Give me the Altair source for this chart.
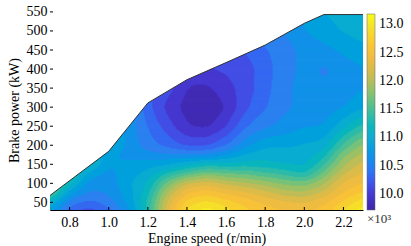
import numpy as np
import pandas as pd
import altair as alt

# ---------------- data ----------------
speed = [0.7, 0.8, 0.9, 1.0, 1.1, 1.2, 1.3, 1.4, 1.5, 1.6, 1.7, 1.8, 1.9, 2.0, 2.1, 2.2, 2.3]
power = [30, 50, 75, 100, 125, 150, 175, 200, 250, 300, 350, 400, 450, 500, 555]

# brake specific values (x10^3), one list per power row, columns follow `speed`
bsfc_p30 = [10.85, 10.3, 10.15, 10.35, 10.7, 11.3, 12.3, 12.9, 13.1, 12.9, 12.7, 12.55, 12.5, 12.45, 12.55, 12.85, 13.1]
bsfc_p50 = [11.1, 10.5, 10.35, 10.5, 10.8, 11.3, 12.2, 12.75, 12.9, 12.75, 12.6, 12.45, 12.35, 12.3, 12.45, 12.7, 12.95]
bsfc_p75 = [11.6, 10.8, 10.55, 10.6, 10.85, 11.2, 12.0, 12.5, 12.6, 12.45, 12.35, 12.2, 12.05, 12.0, 12.2, 12.5, 12.7]
bsfc_p100 = [11.7, 11.2, 10.65, 10.65, 10.9, 11.1, 11.7, 12.15, 12.25, 12.1, 12.0, 11.9, 11.75, 11.7, 11.95, 12.35, 12.5]
bsfc_p125 = [11.7, 11.4, 10.85, 10.7, 10.85, 11.0, 11.3, 11.55, 11.75, 11.65, 11.6, 11.5, 11.4, 11.25, 11.7, 12.15, 12.35]
bsfc_p150 = [11.7, 11.4, 11.2, 10.75, 10.8, 10.85, 10.9, 11.05, 11.2, 11.15, 11.2, 11.15, 11.1, 11.05, 11.4, 11.95, 12.2]
bsfc_p175 = [11.7, 11.4, 11.2, 10.8, 10.7, 10.65, 10.6, 10.6, 10.6, 10.75, 10.95, 11.05, 11.0, 11.0, 11.2, 11.75, 12.05]
bsfc_p200 = [11.7, 11.4, 11.2, 11.0, 10.7, 10.5, 10.35, 10.2, 10.2, 10.4, 10.7, 10.9, 10.9, 10.95, 11.0, 11.5, 11.85]
bsfc_p250 = [11.7, 11.4, 11.2, 11.0, 10.7, 10.4, 10.15, 9.9, 9.85, 10.05, 10.4, 10.55, 10.65, 10.75, 10.75, 11.05, 11.35]
bsfc_p300 = [11.0, 11.0, 11.0, 10.9, 10.7, 10.3, 10.0, 9.82, 9.72, 9.9, 10.2, 10.4, 10.55, 10.65, 10.65, 10.75, 10.9]
bsfc_p350 = [10.6, 10.6, 10.6, 10.6, 10.5, 10.3, 10.15, 9.88, 9.85, 10.0, 10.15, 10.35, 10.55, 10.65, 10.6, 10.65, 10.75]
bsfc_p400 = [10.3, 10.3, 10.3, 10.3, 10.3, 10.3, 10.2, 10.0, 10.05, 10.1, 10.15, 10.35, 10.5, 10.65, 10.55, 10.65, 10.75]
bsfc_p450 = [10.2, 10.2, 10.2, 10.2, 10.2, 10.2, 10.2, 10.2, 10.1, 10.15, 10.25, 10.4, 10.5, 10.65, 10.7, 10.8, 10.9]
bsfc_p500 = [10.4, 10.4, 10.4, 10.4, 10.4, 10.4, 10.4, 10.4, 10.4, 10.4, 10.45, 10.5, 10.6, 10.75, 10.85, 10.95, 11.0]
bsfc_p555 = [10.6, 10.6, 10.6, 10.6, 10.6, 10.6, 10.6, 10.6, 10.6, 10.6, 10.6, 10.6, 10.65, 10.8, 10.95, 11.0, 11.05]

# upper boundary of the operating map
env_speed = [0.7, 0.725, 1.0, 1.2, 1.4, 1.6, 1.8, 2.0, 2.1, 2.3]
env_power = [68, 78, 184, 311, 372, 417, 463, 520, 543, 543]

x_ticks = [0.8, 1.0, 1.2, 1.4, 1.6, 1.8, 2.0, 2.2]
y_ticks = [50, 100, 150, 200, 250, 300, 350, 400, 450, 500, 550]
bar_ticks = [10.0, 10.5, 11.0, 11.5, 12.0, 12.5, 13.0]

x_min, x_max = 0.7, 2.3
y_min, y_max = 30, 555
c_lo, c_hi, n_levels = 9.72, 13.18, 20

# colour bar: value -> colour
cbar_values = [9.72, 10.0, 10.25, 10.5, 10.75, 11.0, 11.25, 11.5, 11.75, 12.0, 12.25, 12.5, 12.75, 13.0, 13.18]
cbar_colors = ["#3e26a8", "#4538d2", "#3f5cf0", "#2c80f0", "#1c98e2", "#10abd2", "#1fb8b6",
               "#45be98", "#80c275", "#b6bd5c", "#e0ba48", "#f8bd3c", "#f7cf31", "#f3e628", "#f9fb15"]

FONT = "'Liberation Serif', 'Times New Roman', serif"

# ---------------- build filled-contour cells ----------------
S = np.array(speed)
P = np.array(power, dtype=float)
Z = np.array([bsfc_p30, bsfc_p50, bsfc_p75, bsfc_p100, bsfc_p125, bsfc_p150, bsfc_p175,
              bsfc_p200, bsfc_p250, bsfc_p300, bsfc_p350, bsfc_p400, bsfc_p450,
              bsfc_p500, bsfc_p555])

ds, dp = 0.005, 2.5
fs = np.round(np.arange(x_min, x_max + 1e-9, ds), 4)
fp = np.arange(y_min, y_max + 1e-9, dp)
tmp = np.array([np.interp(fs, S, row) for row in Z])
F = np.array([np.interp(fp, P, tmp[:, i]) for i in range(len(fs))]).T


def blur(A, sig, axis):
    r = int(3 * sig) + 1
    k = np.exp(-0.5 * (np.arange(-r, r + 1) / sig) ** 2)
    k /= k.sum()
    pad = [(0, 0), (0, 0)]
    pad[axis] = (r, r)
    Ap = np.pad(A, pad, mode="edge")
    return np.apply_along_axis(lambda v: np.convolve(v, k, mode="valid"), axis, Ap)


F = blur(F, 5, 1)
F = blur(F, 3, 0)

step = (c_hi - c_lo) / n_levels
q = np.clip(np.floor((F - c_lo) / step), 0, n_levels - 1).astype(int)
env_at = np.interp(fs, env_speed, env_power)

cells = []
n = len(fs)
for j, p in enumerate(fp):
    inside = (p - dp / 2) <= env_at + 3
    i = 0
    while i < n:
        if not inside[i]:
            i += 1
            continue
        k = q[j, i]
        i0 = i
        while i + 1 < n and inside[i + 1] and q[j, i + 1] == k:
            i += 1
        cells.append(dict(s0=fs[i0] - ds / 2, s1=fs[i] + ds / 2 + 0.005,
                          p0=p - dp / 2, p1=p + dp / 2 + 2.5,
                          v=c_lo + (k + 0.5) * step))
        i += 1
cells = pd.DataFrame(cells)

env_df = pd.DataFrame({"s0": env_speed, "p0": env_power, "top": [y_max] * len(env_speed)})
xt_df = pd.DataFrame({"s0": x_ticks})
yt_df = pd.DataFrame({"p0": y_ticks})

xs = alt.Scale(domain=[x_min, x_max], nice=False, zero=False)
ys = alt.Scale(domain=[y_min, y_max], nice=False, zero=False)

x_axis = alt.Axis(
    values=x_ticks, format=".1f", title="Engine speed (r/min)", ticks=False, tickSize=0,
    labelPadding=5, grid=False, domainColor="black", domainWidth=1,
    labelFont=FONT, labelFontSize=14, labelColor="black",
    titleFont=FONT, titleFontSize=14, titleFontWeight="normal", titleColor="black",
    titlePadding=2)
y_axis = alt.Axis(
    values=y_ticks, title="Brake power (kW)", ticks=False, tickSize=0,
    labelPadding=3, grid=False, domainColor="black", domainWidth=1,
    labelFont=FONT, labelFontSize=14, labelColor="black",
    titleFont=FONT, titleFontSize=14, titleFontWeight="normal", titleColor="black",
    titlePadding=5)

X = alt.X("s0:Q", scale=xs, axis=x_axis)
Y = alt.Y("p0:Q", scale=ys, axis=y_axis)

rects = alt.Chart(cells).mark_rect(clip=True, strokeWidth=0).encode(
    x=X, x2="s1:Q", y=Y, y2="p1:Q",
    color=alt.Color("v:Q", scale=alt.Scale(domain=cbar_values, range=cbar_colors, clamp=True),
                    legend=alt.Legend(
                        orient="none", legendX=317, legendY=4, direction="vertical",
                        gradientLength=196, gradientThickness=8,
                        gradientStrokeColor="#666", gradientStrokeWidth=0.5,
                        values=bar_ticks, format=".1f", labelOverlap=False,
                        labelFont=FONT, labelFontSize=14, labelColor="black", labelOffset=4,
                        title="×10³", titleOrient="bottom", titleAnchor="start",
                        titleFont=FONT, titleFontSize=13, titleFontWeight="normal",
                        titleColor="#333", titlePadding=3, padding=0)),
)

mask = alt.Chart(env_df).mark_area(color="white", opacity=1, clip=True).encode(
    x=X, y=Y, y2="top:Q",
)

edge = alt.Chart(env_df).mark_line(color="#333333", strokeWidth=1).encode(
    x=X, y=Y,
)

xt = alt.Chart(xt_df).mark_rule(color="black", strokeWidth=1).encode(
    x=X, y=alt.value(200), y2=alt.value(197),
)
yt = alt.Chart(yt_df).mark_rule(color="black", strokeWidth=1).encode(
    y=Y, x=alt.value(0), x2=alt.value(3),
)

chart = alt.layer(rects, mask, edge, xt, yt).properties(
    width=313, height=200,
    padding={"left": 50, "top": 10, "right": 48, "bottom": 36},
    autosize=alt.AutoSizeParams(type="none"),
    background="white",
).configure_view(stroke=None)

chart.save("out.html", embed_options={"renderer": "svg", "actions": False})
